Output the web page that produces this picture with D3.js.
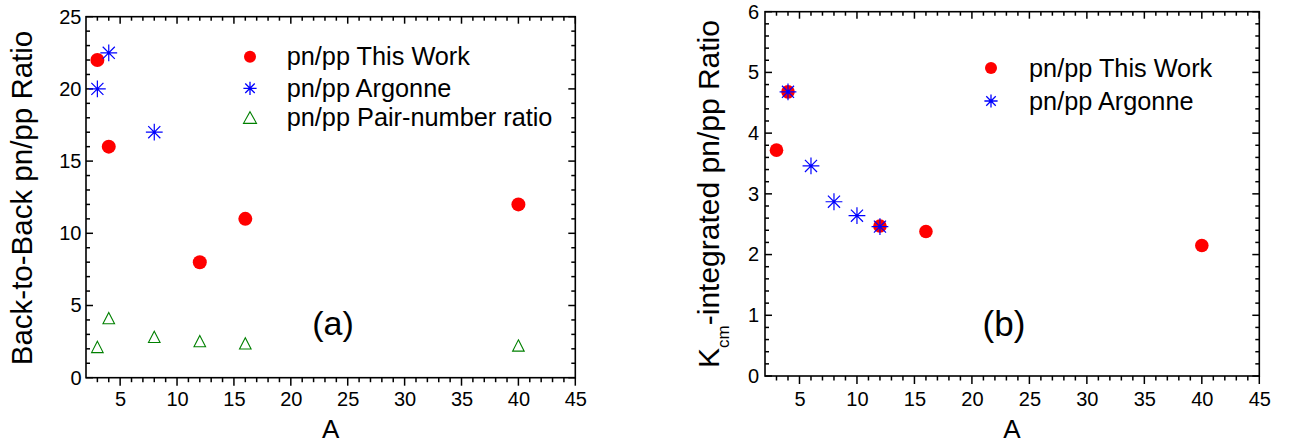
<!DOCTYPE html>
<html><head><meta charset="utf-8">
<script src="https://cdn.jsdelivr.net/npm/d3@7"></script>
<style>
html,body{margin:0;padding:0;background:#fff;}
svg{display:block;font-family:"Liberation Sans",Arial,Helvetica,sans-serif;}
</style></head><body>
<svg id="chart" width="1290" height="443"></svg>
<script>
// ---- data (panel a) ----
const aThisWorkA = [3, 4, 12, 16, 40];
const aThisWorkR = [22, 16, 8, 11, 12];
const aArgonneA = [3, 4, 8];
const aArgonneR = [20, 22.5, 17];
const aPairA = [3, 4, 8, 12, 16, 40];
const aPairR = [2.0, 4.0, 2.7, 2.4, 2.25, 2.1];
// ---- data (panel b) ----
const bThisWorkA = [3, 4, 12, 16, 40];
const bThisWorkR = [3.72, 4.68, 2.47, 2.38, 2.15];
const bArgonneA = [4, 6, 8, 10, 12];
const bArgonneR = [4.68, 3.46, 2.87, 2.64, 2.46];
// ---- ticks / labels ----
const xTicks = [5, 10, 15, 20, 25, 30, 35, 40, 45];
const aYTicks = [0, 5, 10, 15, 20, 25];
const bYTicks = [0, 1, 2, 3, 4, 5, 6];
const legendA = ["pn/pp This Work", "pn/pp Argonne", "pn/pp Pair-number ratio"];
const legendB = ["pn/pp This Work", "pn/pp Argonne"];

const RED = "#ff0000", BLUE = "#0000ff", GREEN = "#008000";
const svg = d3.select("#chart");
svg.append("rect").attr("width", 1290).attr("height", 443).attr("fill", "#fff");

function asteriskPath(cx, cy, r) {
  const d = r * 0.72;
  return `M${cx - r},${cy}H${cx + r}M${cx},${cy - r}V${cy + r}` +
         `M${cx - d},${cy - d}L${cx + d},${cy + d}M${cx - d},${cy + d}L${cx + d},${cy - d}`;
}
function trianglePath(cx, cy, w, h, centroid) {
  const top = centroid ? cy - 2 * h / 3 : cy - h / 2;
  const bot = top + h;
  return `M${cx},${top}L${cx + w / 2},${bot}L${cx - w / 2},${bot}Z`;
}

function panel(cfg) {
  const x = d3.scaleLinear().domain([2, 45]).range([cfg.left, cfg.right]);
  const y = d3.scaleLinear().domain(cfg.yDomain).range([cfg.bottom, cfg.top]);
  const g = svg.append("g");
  const xMinor = d3.range(3, 45, 1).filter(v => v % 5 !== 0);
  const yMinor = d3.range(cfg.yDomain[0], cfg.yDomain[1] + 1e-9, cfg.yMinorStep)
      .filter(v => Math.abs(v / cfg.yMajorStep - Math.round(v / cfg.yMajorStep)) > 1e-6);

  // frame
  g.append("rect").attr("x", cfg.left).attr("y", cfg.top)
    .attr("width", cfg.right - cfg.left).attr("height", cfg.bottom - cfg.top)
    .attr("fill", "none").attr("stroke", "#000").attr("stroke-width", 1.6);

  // tick marks from the scales: bottom outward, others inward
  const tk = [];
  xTicks.forEach(v => { tk.push([x(v), cfg.bottom, x(v), cfg.bottom + 8]); tk.push([x(v), cfg.top, x(v), cfg.top + 7]); });
  xMinor.forEach(v => { tk.push([x(v), cfg.bottom, x(v), cfg.bottom + 4.5]); tk.push([x(v), cfg.top, x(v), cfg.top + 4]); });
  cfg.yTicks.forEach(v => { tk.push([cfg.left, y(v), cfg.left + 7, y(v)]); tk.push([cfg.right, y(v), cfg.right - 7, y(v)]); });
  yMinor.forEach(v => { tk.push([cfg.left, y(v), cfg.left + 4, y(v)]); tk.push([cfg.right, y(v), cfg.right - 4, y(v)]); });
  g.append("g").selectAll("line").data(tk).join("line")
    .attr("x1", d => d[0]).attr("y1", d => d[1]).attr("x2", d => d[2]).attr("y2", d => d[3])
    .attr("stroke", "#000").attr("stroke-width", 1.5);

  const styleAxis = sel => {
    sel.select(".domain").remove();
    sel.selectAll(".tick line").remove();
    sel.selectAll("text").attr("fill", "#000").attr("font-size", 20)
       .attr("font-family", '"Liberation Sans",Arial,sans-serif');
  };
  g.append("g").attr("transform", `translate(0,${cfg.bottom})`)
    .call(d3.axisBottom(x).tickValues(xTicks).tickSize(8).tickSizeOuter(0).tickPadding(cfg.xPad).tickFormat(d3.format("d"))).call(styleAxis);
  g.append("g").attr("transform", `translate(${cfg.left},0)`)
    .call(d3.axisLeft(y).tickValues(cfg.yTicks).tickSize(-8).tickSizeOuter(0).tickPadding(cfg.yPad).tickFormat(d3.format("d"))).call(styleAxis);
  return {x, y, g};
}

// ================= Panel (a) =================
const pa = panel({left: 86, right: 575.3, top: 16.7, bottom: 377.7, yDomain: [0, 25],
  yTicks: aYTicks, yMajorStep: 5, yMinorStep: 1, xPad: 6, yPad: 4.5});

pa.g.append("g").selectAll("path").data(aPairA.map((a, i) => [a, aPairR[i]])).join("path")
  .attr("d", d => trianglePath(pa.x(d[0]), pa.y(d[1]), 11.6, 11.3, true))
  .attr("fill", "none").attr("stroke", GREEN).attr("stroke-width", 1.1);
pa.g.append("g").selectAll("circle").data(aThisWorkA.map((a, i) => [a, aThisWorkR[i]])).join("circle")
  .attr("cx", d => pa.x(d[0])).attr("cy", d => pa.y(d[1])).attr("r", 7).attr("fill", RED);
pa.g.append("g").selectAll("path").data(aArgonneA.map((a, i) => [a, aArgonneR[i]])).join("path")
  .attr("d", d => asteriskPath(pa.x(d[0]), pa.y(d[1]), 8.4))
  .attr("fill", "none").attr("stroke", BLUE).attr("stroke-width", 1.2);

const legAy = [56.7, 88.3, 117.5];
pa.g.append("circle").attr("cx", 250).attr("cy", legAy[0]).attr("r", 6).attr("fill", RED);
pa.g.append("path").attr("d", asteriskPath(250, legAy[1], 6.6)).attr("stroke", BLUE).attr("stroke-width", 1.3).attr("fill", "none");
pa.g.append("path").attr("d", trianglePath(250, legAy[2], 13, 11.7, false)).attr("stroke", GREEN).attr("stroke-width", 1.1).attr("fill", "none");
pa.g.append("g").selectAll("text").data(legendA).join("text")
  .attr("x", 286.7).attr("y", (d, i) => legAy[i] + 8.5).attr("font-size", 25.3).attr("fill", "#000").text(d => d);

pa.g.append("text").attr("x", 333).attr("y", 334.6).attr("text-anchor", "middle").attr("font-size", 34).text("(a)");
pa.g.append("text").attr("x", 330.7).attr("y", 438).attr("text-anchor", "middle").attr("font-size", 26).text("A");
pa.g.append("text").attr("transform", "translate(32.3,198) rotate(-90)").attr("text-anchor", "middle")
  .attr("font-size", 29.5).text("Back-to-Back pn/pp Ratio");

// ================= Panel (b) =================
const pb = panel({left: 765, right: 1259.3, top: 11.7, bottom: 376, yDomain: [0, 6],
  yTicks: bYTicks, yMajorStep: 1, yMinorStep: 0.2, xPad: 7.5, yPad: 6});

pb.g.append("g").selectAll("circle").data(bThisWorkA.map((a, i) => [a, bThisWorkR[i]])).join("circle")
  .attr("cx", d => pb.x(d[0])).attr("cy", d => pb.y(d[1])).attr("r", 6.8).attr("fill", RED);
pb.g.append("g").selectAll("path").data(bArgonneA.map((a, i) => [a, bArgonneR[i]])).join("path")
  .attr("d", d => asteriskPath(pb.x(d[0]), pb.y(d[1]), 8.4))
  .attr("fill", "none").attr("stroke", BLUE).attr("stroke-width", 1.2);

const legBy = [68, 101];
pb.g.append("circle").attr("cx", 991).attr("cy", legBy[0]).attr("r", 6).attr("fill", RED);
pb.g.append("path").attr("d", asteriskPath(991, legBy[1], 6.6)).attr("stroke", BLUE).attr("stroke-width", 1.3).attr("fill", "none");
pb.g.append("g").selectAll("text").data(legendB).join("text")
  .attr("x", 1029).attr("y", (d, i) => legBy[i] + 9).attr("font-size", 25.3).attr("fill", "#000").text(d => d);

pb.g.append("text").attr("x", 1004).attr("y", 336).attr("text-anchor", "middle").attr("font-size", 35).text("(b)");
pb.g.append("text").attr("x", 1012).attr("y", 438).attr("text-anchor", "middle").attr("font-size", 26).text("A");
const yl = pb.g.append("text").attr("transform", "translate(719.3,194) rotate(-90)").attr("text-anchor", "middle").attr("font-size", 30);
yl.append("tspan").text("K");
yl.append("tspan").attr("font-size", 17).attr("dy", 10).text("cm");
yl.append("tspan").attr("dy", -10).text("-integrated pn/pp Ratio");
</script></body></html>
